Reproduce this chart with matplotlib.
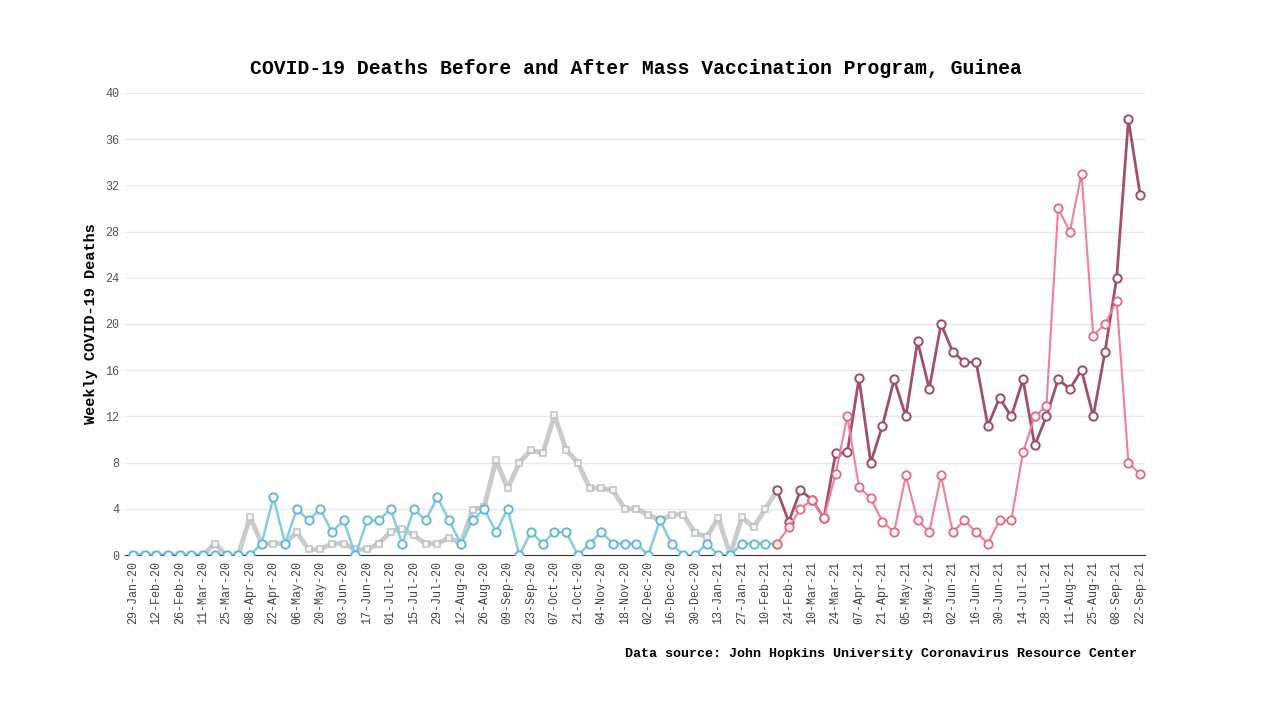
import datetime as dt
import matplotlib
matplotlib.use("Agg")
import matplotlib.pyplot as plt

# weekly dates, 29-Jan-20 .. 22-Sep-21
start = dt.date(2020, 1, 29)
weeks = list(range(87))
dates = [start + dt.timedelta(weeks=w) for w in weeks]
date_labels = [d.strftime("%d-%b-%y") for d in dates]

split_week = 55  # last week shown in "before" colours

# series A (grey before, dark rose after)
deaths_a = [
    0, 0, 0, 0, 0, 0, 0, 1, 0, 0,
    3.3, 1, 1, 1, 2, 0.5, 0.5, 1, 1, 0.5,
    0.5, 1, 2, 2.3, 1.7, 1, 1, 1.5, 1, 3.9,
    4.2, 8.2, 5.8, 8, 9.1, 8.8, 12.1, 9.1, 8, 5.8,
    5.8, 5.6, 4, 4, 3.5, 3, 3.5, 3.5, 1.9, 1.6,
    3.2, 0, 3.3, 2.4, 4, 5.6, 2.9, 5.6, 4.8, 3.2,
    8.8, 8.9, 15.3, 8, 11.2, 15.2, 12, 18.5, 14.4, 20,
    17.6, 16.7, 16.7, 11.2, 13.6, 12, 15.2, 9.5, 12, 15.2,
    14.4, 16, 12, 17.6, 24, 37.7, 31.2,
]

# series B (light blue before, pink after)
deaths_b = [
    0, 0, 0, 0, 0, 0, 0, 0, 0, 0,
    0, 1, 5, 1, 4, 3, 4, 2, 3, 0,
    3, 3, 4, 1, 4, 3, 5, 3, 1, 3,
    4, 2, 4, 0, 2, 1, 2, 2, 0, 1,
    2, 1, 1, 1, 0, 3, 1, 0, 0, 1,
    0, 0, 1, 1, 1, 1, 2.4, 4, 4.8, 3.2,
    7, 12, 5.9, 4.9, 2.9, 2, 6.9, 3, 2, 6.9,
    2, 3, 2, 1, 3, 3, 8.9, 12, 12.9, 30,
    28, 33, 19, 20, 22, 8, 7,
]

mono = "Liberation Mono"

fig = plt.figure(figsize=(12.72, 7.2), dpi=100)
ax = fig.add_axes([0.098, 0.229, 0.802, 0.642])

before = slice(0, split_week + 1)
after = slice(split_week, len(weeks))

ax.plot(weeks[before], deaths_a[before], color="#bcc0c4", lw=3.5, alpha=0.8,
        marker="s", ms=5, mfc="white", mec="#b5b9be", mew=1.2, zorder=2)
ax.plot(weeks[before], deaths_b[before], color="#86cbe4", lw=1.8,
        marker="o", ms=6, mfc="white", mec="#62b8d8", mew=1.4, zorder=3)
ax.plot(weeks[after], deaths_a[after], color="#a24f6b", lw=2.0,
        marker="o", ms=6, mfc="white", mec="#9e4b66", mew=1.4, zorder=4)
ax.plot(weeks[after], deaths_b[after], color="#f0809a", lw=1.5,
        marker="o", ms=6, mfc="white", mec="#e8647f", mew=1.3, zorder=5)

ax.set_xlim(-0.7, 86.4)
ax.set_ylim(0, 40)
ax.set_yticks(range(0, 41, 4))
ax.set_xticks(weeks[::2])
ax.set_xticklabels(date_labels[::2], rotation=90, fontsize=8.5,
                   family=mono, color="#444444")
for lab in ax.get_yticklabels():
    lab.set_family(mono)
    lab.set_fontsize(8.5)
    lab.set_color("#555555")

ax.grid(True, axis="y", color="#e8e8e8", lw=1)
ax.set_axisbelow(True)
for side in ["top", "right", "left"]:
    ax.spines[side].set_visible(False)
ax.spines["bottom"].set_color("#333333")
ax.tick_params(axis="both", length=0, pad=4)

ax.set_ylabel("Weekly COVID-19 Deaths", family=mono, fontweight="bold",
              fontsize=11, labelpad=5)
fig.text(0.500, 0.905, "COVID-19 Deaths Before and After Mass Vaccination Program, Guinea",
         ha="center", va="center", family=mono, fontweight="bold", fontsize=14.2)
fig.text(0.894, 0.092, "Data source: John Hopkins University Coronavirus Resource Center",
         ha="right", va="center", family=mono, fontweight="bold", fontsize=9.6)

fig.savefig("out.png", dpi=100)
